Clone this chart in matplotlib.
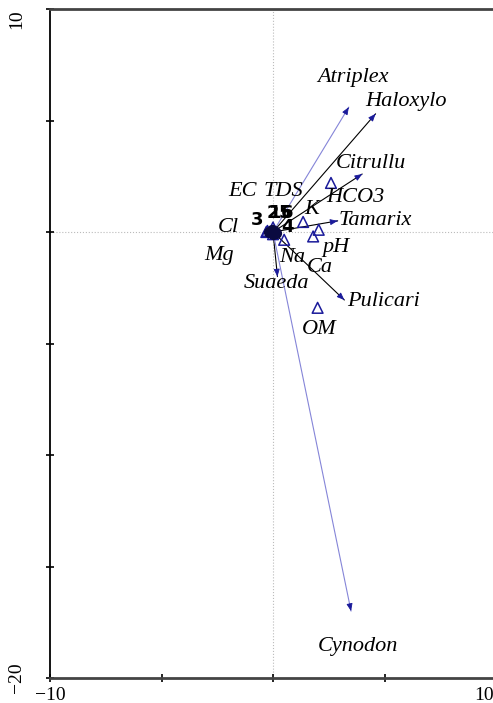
import matplotlib.pyplot as plt

# species arrows (end points)
species = ["Atriplex", "Haloxylo", "Citrullu", "Tamarix", "Pulicari", "Suaeda", "Cynodon"]
sp_x = [3.4, 4.6, 4.0, 2.9, 3.2, 0.2, 3.5]
sp_y = [5.6, 5.3, 2.6, 0.5, -3.05, -2.0, -17.0]
sp_lab_x = [3.6, 5.95, 4.4, 4.6, 4.95, 0.15, 3.8]
sp_lab_y = [6.95, 5.85, 3.05, 0.5, -3.1, -2.3, -18.6]

# environmental centroids (triangles) and labels
env = ["EC", "TDS", "HCO3", "K", "Cl", "Mg", "Na", "Ca", "pH", "OM"]
env_x = [-0.3, 0.0, 2.6, 1.35, -0.25, 0.0, 0.5, 1.8, 2.05, 2.0]
env_y = [0.0, 0.2, 2.2, 0.45, 0.05, -0.1, -0.35, -0.2, 0.1, -3.4]
env_lab_x = [-1.35, 0.45, 3.7, 1.75, -2.0, -2.4, 0.85, 2.1, 2.8, 2.05]
env_lab_y = [1.8, 1.8, 1.55, 1.0, 0.2, -1.05, -1.15, -1.6, -0.7, -4.35]

# samples
samples = ["1", "2", "3", "4", "5", "6"]
smp_x = [0.05, -0.05, -0.2, 0.15, 0.1, 0.0]
smp_y = [0.05, 0.1, 0.0, -0.05, 0.0, -0.1]
smp_lab_x = [0.1, 0.0, -0.72, 0.63, 0.54, 0.63]
smp_lab_y = [0.85, 0.85, 0.54, 0.22, 0.85, 0.85]

fig = plt.figure(figsize=(4.93, 7.03), dpi=100)
ax = fig.add_axes([50 / 493, 1 - 678 / 703, 446 / 493, 669 / 703])
ax.set_xlim(-10, 10)
ax.set_ylim(-20, 10)

ax.axhline(0, color="#bbbbbb", lw=0.8, ls=":", zorder=0)
ax.axvline(0, color="#bbbbbb", lw=0.8, ls=":", zorder=0)

head = "#1a1a9a"
for name, x, y in zip(species, sp_x, sp_y):
    lc = "#8585d8" if name in ("Atriplex", "Cynodon") else "black"
    ax.annotate("", xy=(x, y), xytext=(0, 0),
                arrowprops=dict(arrowstyle="-", color=lc, lw=0.8, shrinkA=0, shrinkB=0))
    ax.annotate("", xy=(x, y), xytext=(x - 0.01 * x, y - 0.01 * y),
                arrowprops=dict(arrowstyle="-|>,head_length=0.45,head_width=0.18",
                                color=head, lw=0.6, shrinkA=0, shrinkB=0))
for name, x, y in zip(species, sp_lab_x, sp_lab_y):
    ax.text(x, y, name, fontsize=16, family="Liberation Serif", style="italic",
            ha="center", va="center")

ax.scatter(env_x, env_y, marker="^", s=60, facecolors="none",
           edgecolors="#1a1a9a", linewidths=1.1, zorder=3)
for name, x, y in zip(env, env_lab_x, env_lab_y):
    ax.text(x, y, name, fontsize=16, family="Liberation Serif", style="italic",
            ha="center", va="center")

ax.scatter(smp_x, smp_y, s=50, color="#0a0a40", zorder=4)
for name, x, y in zip(samples, smp_lab_x, smp_lab_y):
    ax.text(x, y, name, fontsize=13, fontweight="bold", ha="center", va="center")

ax.set_xticks([-10, -5, 0, 5, 10])
ax.set_yticks([-20, -15, -10, -5, 0, 5, 10])
ax.set_xticklabels([])
ax.set_yticklabels([])
ax.tick_params(direction="inout", length=6, width=1.2)

tf = dict(fontsize=14, family="Liberation Serif")
ax.text(-10, -20.4, "\u221210", ha="center", va="top", **tf)
ax.text(9.45, -20.4, "10", ha="center", va="top", **tf)
ax.text(-11.1, 9.55, "10", ha="right", va="center", rotation=90, **tf)
ax.text(-11.1, -20, "\u221220", ha="right", va="center", rotation=90, **tf)

for s in ("top", "bottom"):
    ax.spines[s].set_linewidth(2)
    ax.spines[s].set_color("#444444")
ax.spines["left"].set_linewidth(1.3)
ax.spines["right"].set_visible(False)

fig.savefig("out.png", dpi=100)
